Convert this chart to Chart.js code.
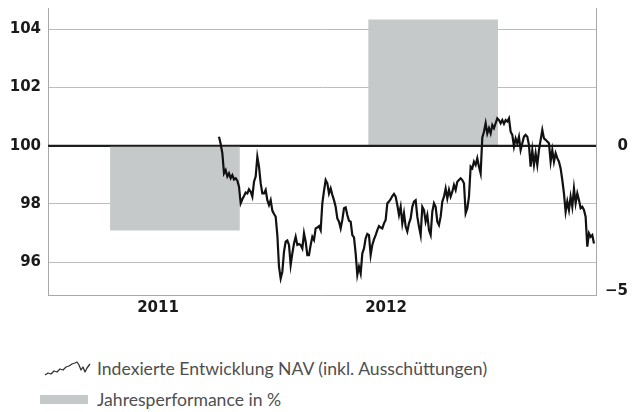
<!DOCTYPE html>
<html><head><meta charset="utf-8">
<script src="https://cdn.jsdelivr.net/npm/chart.js@4.4.1/dist/chart.umd.min.js"></script>
<style>
html,body{margin:0;padding:0;background:#fff;}
#wrap{position:relative;width:633px;height:412px;overflow:hidden;background:#fff;}
#c{position:absolute;left:0;top:0;}
.lg{position:absolute;font-family:Lato,'Open Sans',sans-serif;font-weight:400;font-size:17.6px;color:#4f4f4f;white-space:nowrap;line-height:20px;}
</style></head>
<body><div id="wrap">
<canvas id="c" width="633" height="330"></canvas>
<svg style="position:absolute;left:44px;top:361px" width="48" height="16"><polyline fill="none" stroke="#333" stroke-width="1.3" stroke-linejoin="round" points="1,14 4,12 7,13 10,10 13,11 16,8 19,9 22,6 25,5 28,3 31,2 33,1 35,4 37,9 39,6 41,11 43,7 46,3"/></svg>
<div class="lg" style="left:97px;top:359px">Indexierte Entwicklung NAV (inkl. Ausschüttungen)</div>
<div style="position:absolute;left:40px;top:395px;width:48px;height:9px;background:#c6c9ca"></div>
<div class="lg" style="left:97px;top:390px">Jahresperformance in %</div>
</div>
<script>
// ---- data ----
const navStartMonth = 9.21;      // months since Jan 2011
const navStepMonths = 0.0877;
const navValues = [
100.31,100.06,99.74,99.05,99.16,98.94,99.05,98.88,98.99,98.84,
98.88,98.80,98.59,98.02,98.16,98.27,98.39,98.36,98.50,98.42,
98.25,98.76,98.94,99.62,99.28,98.71,98.36,98.36,98.48,98.13,
97.96,98.13,97.77,97.65,97.56,96.93,95.84,95.44,95.67,96.36,
96.70,96.74,96.59,95.90,96.30,96.64,96.87,96.59,96.62,96.59,
96.47,96.99,
96.70,96.24,96.24,96.59,96.87,96.76,97.16,97.19,97.24,97.10,
98.02,98.45,98.82,98.71,98.36,98.53,98.31,98.13,97.90,97.50,
97.39,97.16,97.45,97.85,97.88,97.62,97.42,97.39,96.93,96.85,
96.30,95.56,95.84,95.61,96.30,96.47,96.82,96.97,96.93,96.24,
96.59,96.78,96.93,97.10,97.24,97.19,97.16,97.33,97.45,98.02,
98.08,98.16,98.27,98.34,98.25,97.96,97.62,
97.90,97.33,97.68,97.22,97.05,97.33,97.50,97.90,98.08,98.13,
97.56,97.22,96.93,97.90,97.79,97.39,97.62,97.10,96.93,97.73,
98.02,97.90,97.39,97.27,97.56,98.08,98.25,98.53,98.19,98.48,
98.25,98.42,98.65,98.48,98.76,98.82,98.88,98.82,98.71,97.68,
97.85,98.25,99.28,99.22,99.45,99.34,99.57,99.28,99.05,100.28,
100.48,100.77,100.42,100.60,100.42,100.71,100.60,
100.77,100.94,100.88,100.77,100.88,100.75,100.88,100.83,100.94,100.48,
100.37,99.97,100.25,100.08,100.31,99.85,100.08,100.31,100.37,100.31,
100.02,99.28,99.85,99.34,99.74,99.34,99.85,100.20,100.54,100.25,
100.20,100.14,100.08,99.45,99.85,99.45,99.74,99.57,99.45,99.22,
98.82,98.36,97.73,98.08,97.79,98.25,97.90,98.53,98.02,98.36,
98.13,97.85,97.90,97.79,97.56,96.53,96.99,96.87,96.93,96.64
];
const barYears = ['2011', '2012'];
const barCenterMonths = [6.89, 20.48];
const barPerformance = [-2.90, 4.32];
const xTickMonths = [6, 18];
const xTickLabels = ['2011', '2012'];
const leftTicks = [96, 98, 100, 102, 104];
const rightTicks = [-5, 0];
const rightTickLabels = ['\u22125', '0'];
const xRange = [0.21, 29.05];
const leftRange = [94.87, 104.73];
const rightRange = [-5.13, 4.73];
const refValue = 100;

// ---- chart ----
const navPoints = navValues.map((v, i) => ({x: navStartMonth + i * navStepMonths, y: v}));
const barPoints = barCenterMonths.map((m, i) => ({x: m, y: barPerformance[i]}));

const refLine = {
  id: 'refLine',
  afterDatasetDraw(chart, args) {
    if (args.index !== 1) return;
    const {ctx, chartArea, scales} = chart;
    const y = scales.y.getPixelForValue(refValue);
    ctx.save();
    ctx.strokeStyle = '#1e1e1e';
    ctx.lineWidth = 2;
    ctx.beginPath();
    ctx.moveTo(chartArea.left, y);
    ctx.lineTo(chartArea.right, y);
    ctx.stroke();
    ctx.restore();
  }
};

const axisColor = '#a9a9a9';
new Chart(document.getElementById('c'), {
  type: 'line',
  data: {
    datasets: [
      {type: 'line', label: 'Indexierte Entwicklung NAV (inkl. Ausschüttungen)', data: navPoints,
       borderColor: '#111', borderWidth: 2.2, pointRadius: 0, tension: 0, yAxisID: 'y', order: 0},
      {type: 'bar', label: 'Jahresperformance in %', data: barPoints,
       backgroundColor: '#c6c9ca', borderWidth: 0, barThickness: 129, yAxisID: 'y2', order: 1}
    ]
  },
  options: {
    responsive: false,
    animation: false,
    layout: {padding: {top: 8, right: 5, left: 0, bottom: 0}},
    plugins: {legend: {display: false}, tooltip: {enabled: false}},
    scales: {
      x: {
        type: 'linear', position: 'bottom', min: xRange[0], max: xRange[1], offset: false,
        grid: {display: false, drawTicks: false},
        border: {display: true, color: axisColor, width: 1},
        ticks: {autoSkip: false, maxRotation: 0, padding: 4, color: '#1a1a1a',
                font: {family: 'DejaVu Sans', size: 15, weight: 'bold'},
                callback: (v, i) => xTickLabels[i]},
        afterBuildTicks: s => { s.ticks = xTickMonths.map(v => ({value: v})); },
        afterFit: s => { s.height = 35; s.paddingLeft = 0; s.paddingRight = 0; }
      },
      y: {
        position: 'left', min: leftRange[0], max: leftRange[1],
        grid: {drawTicks: false,
               color: c => (c.tick && c.tick.value === refValue) ? '#1e1e1e' : '#bdbdbd',
               lineWidth: c => (c.tick && c.tick.value === refValue) ? 2 : 1},
        border: {display: true, color: axisColor, width: 1},
        ticks: {padding: 7, color: '#1a1a1a', font: {family: 'DejaVu Sans', size: 15, weight: 'bold'},
                callback: (v, i) => String(leftTicks[i])},
        afterBuildTicks: s => { s.ticks = leftTicks.map(v => ({value: v})); },
        afterFit: s => { s.width = 48; s.paddingTop = 0; s.paddingBottom = 0; }
      },
      y2: {
        position: 'right', min: rightRange[0], max: rightRange[1],
        grid: {display: false, drawTicks: false},
        border: {display: true, color: axisColor, width: 1},
        ticks: {padding: 0, crossAlign: 'far', color: '#1a1a1a',
                font: {family: 'DejaVu Sans', size: 15, weight: 'bold'},
                callback: (v, i) => rightTickLabels[i]},
        afterBuildTicks: s => { s.ticks = rightTicks.map(v => ({value: v})); },
        afterFit: s => { s.width = 32; s.paddingTop = 0; s.paddingBottom = 0; }
      }
    }
  },
  plugins: [refLine]
});
</script>
</body></html>
